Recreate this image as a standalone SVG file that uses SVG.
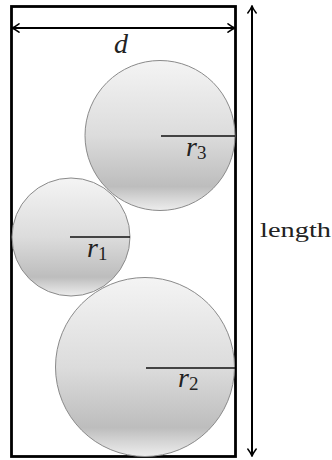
<svg xmlns="http://www.w3.org/2000/svg" width="332" height="460" viewBox="0 0 332 460">
  <defs>
    <linearGradient id="ball" x1="0" y1="0" x2="0" y2="1">
      <stop offset="0" stop-color="#f4f4f4"/>
      <stop offset="0.5" stop-color="#dcdcdc"/>
      <stop offset="0.84" stop-color="#bdbdbd"/>
      <stop offset="0.92" stop-color="#d6d6d6"/>
      <stop offset="1" stop-color="#ededed"/>
    </linearGradient>
    <marker id="arr" viewBox="-8 -5 9 10" refX="0" refY="0" markerWidth="9" markerHeight="10" markerUnits="userSpaceOnUse" orient="auto-start-reverse">
      <path d="M -7 -4.2 Q -2.5 -0.8 0 0 Q -2.5 0.8 -7 4.2" fill="none" stroke="#000" stroke-width="1.5" stroke-linecap="round"/>
    </marker>
  </defs>
  <style>
    .ball { fill: url(#ball); stroke: #8a8a8a; stroke-width: 1; }
    .rad { stroke: #111; stroke-width: 1.6; fill: none; }
    .dim { stroke: #000; stroke-width: 2; fill: none; marker-start: url(#arr); marker-end: url(#arr); }
    .lbl { font-family: "Liberation Serif", "Times New Roman", serif; fill: #222; }
    .it { font-style: italic; font-size: 28px; }
    .sub { font-size: 19px; font-style: normal; }
  </style>

  <g id="box">
    <rect x="11.5" y="6.5" width="224" height="450" fill="#fff" stroke="#000" stroke-width="2.8"/>
  </g>

  <g id="circle3">
    <circle class="ball" cx="160" cy="135.5" r="75"/>
    <line class="rad" x1="161" y1="136" x2="235" y2="136"/>
    <text class="lbl" x="186" y="156"><tspan class="it">r</tspan><tspan class="sub" dy="3">3</tspan></text>
  </g>

  <g id="circle1">
    <circle class="ball" cx="71" cy="237" r="59"/>
    <line class="rad" x1="70" y1="237" x2="130" y2="237"/>
    <text class="lbl" x="87" y="257"><tspan class="it">r</tspan><tspan class="sub" dy="3">1</tspan></text>
  </g>

  <g id="circle2">
    <circle class="ball" cx="145" cy="367" r="89.5"/>
    <line class="rad" x1="146" y1="368" x2="235" y2="368"/>
    <text class="lbl" x="178" y="387"><tspan class="it">r</tspan><tspan class="sub" dy="3">2</tspan></text>
  </g>

  <g id="connectors">
    <line class="dim" x1="12" y1="28" x2="235" y2="28"/>
    <line class="dim" x1="252" y1="6" x2="252" y2="456"/>
  </g>

  <g id="labels">
    <text class="lbl it" x="114" y="53">d</text>
    <text class="lbl" x="260" y="237" font-size="22" textLength="71" lengthAdjust="spacingAndGlyphs">length</text>
  </g>
</svg>
